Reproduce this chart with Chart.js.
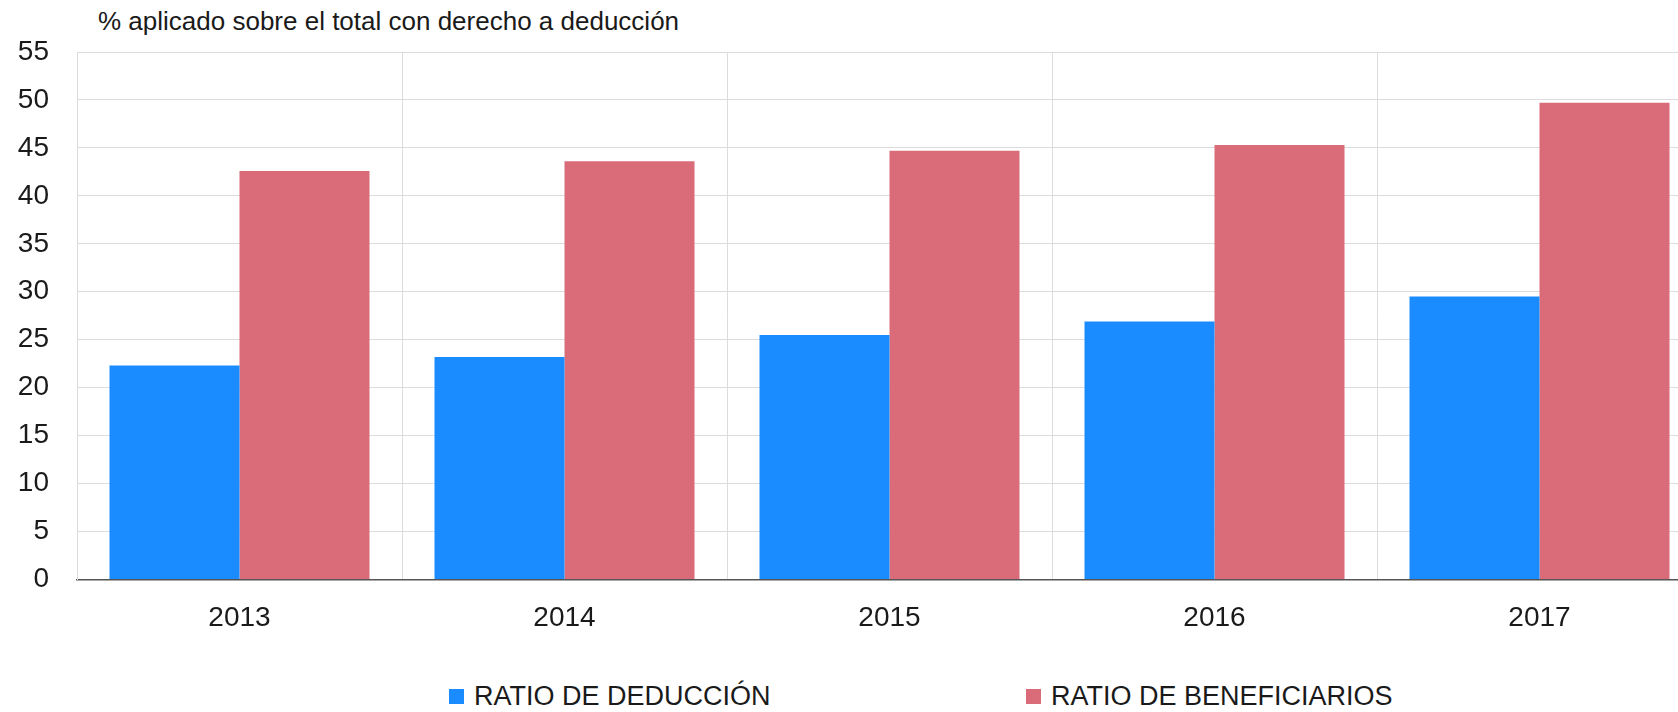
<!DOCTYPE html>
<html lang="es">
<head>
<meta charset="utf-8">
<title>Ratio de deducción y de beneficiarios</title>
<script src="https://cdn.jsdelivr.net/npm/chart.js@4/dist/chart.umd.min.js"></script>
<style>
    html, body { margin: 0; padding: 0; background: #fff; overflow: hidden; }
    body { width: 1678px; height: 712px; position: relative; font-family: "Liberation Sans", Arial, sans-serif; color: #1a1a1a; }
    #chart-box { position: absolute; left: 0; top: 0; width: 1703px; height: 662px; }
    #unit-title { position: absolute; left: 98px; top: 8px; font-size: 26px; line-height: 1; white-space: nowrap; }
    .legend-item { position: absolute; top: 683px; font-size: 27px; line-height: 1; white-space: nowrap; }
    .legend-item .box { position: absolute; left: 0; top: 5.5px; width: 15px; height: 15px; }
    .legend-item .label { position: absolute; left: 25px; top: 0; }
</style>
</head>
<body>
<div id="unit-title">% aplicado sobre el total con derecho a deducción</div>
<div id="chart-box"><canvas id="ratioChart" width="1703" height="662"></canvas></div>
<div id="legend"></div>
<script>
var years = ['2013', '2014', '2015', '2016', '2017'];
var ratioDeduccion = [22.3, 23.2, 25.5, 26.9, 29.5];
var ratioBeneficiarios = [42.6, 43.6, 44.7, 45.3, 49.7];
var seriesNames = ['RATIO DE DEDUCCIÓN', 'RATIO DE BENEFICIARIOS'];
var seriesColors = ['#1b8cff', '#d96c78'];

document.addEventListener('DOMContentLoaded', function() {
    var ctx = document.getElementById('ratioChart').getContext('2d');
    var tickFont = { family: '"Liberation Sans", Arial, sans-serif', size: 28 };

    var chart = new Chart(ctx, {
        type: 'bar',
        data: {
            labels: years,
            datasets: [{
                label: seriesNames[0],
                backgroundColor: seriesColors[0],
                data: ratioDeduccion
            }, {
                label: seriesNames[1],
                backgroundColor: seriesColors[1],
                data: ratioBeneficiarios
            }]
        },
        options: {
            responsive: false,
            animation: false,
            layout: { padding: { left: 18, right: 1, top: 52, bottom: 5 } },
            datasets: { bar: { categoryPercentage: 0.8, barPercentage: 1.0 } },
            plugins: {
                legend: { display: false },
                tooltip: { enabled: false }
            },
            scales: {
                x: {
                    grid: { color: '#dcdcdc', lineWidth: 1, drawTicks: false },
                    border: { color: '#555', width: 1.5 },
                    ticks: { color: '#1a1a1a', font: tickFont, padding: 22 }
                },
                y: {
                    min: 0,
                    max: 55,
                    // ancho fijo del eje para que el area empiece donde en el original
                    afterFit: function(scale) { scale.width = 59; },
                    grid: { color: '#dcdcdc', lineWidth: 1, drawTicks: false },
                    border: { color: '#dcdcdc', width: 1 },
                    ticks: { stepSize: 5, color: '#1a1a1a', font: tickFont, padding: 28 }
                }
            }
        }
    });

    // leyenda abajo, dos columnas separadas como en el original
    var legend = document.getElementById('legend');
    var legendLeft = [449, 1026];
    chart.data.datasets.forEach(function(ds, i) {
        var item = document.createElement('div');
        item.className = 'legend-item';
        item.style.left = legendLeft[i] + 'px';
        item.innerHTML = '<span class="box" style="background:' + ds.backgroundColor + '"></span>' +
            '<span class="label">' + ds.label + '</span>';
        legend.appendChild(item);
    });
});
</script>
</body>
</html>
